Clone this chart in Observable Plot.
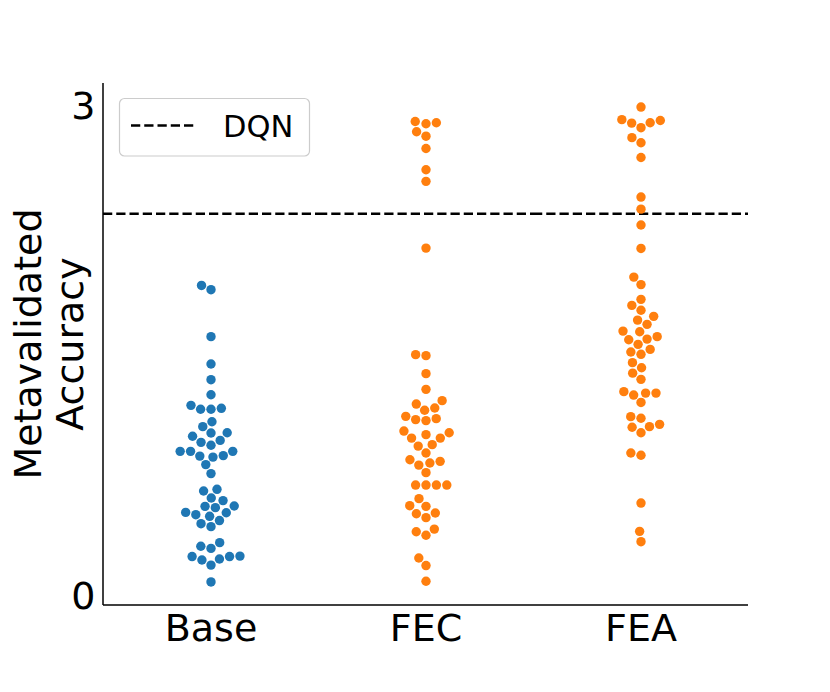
<!DOCTYPE html>
<html>
<head>
<meta charset="utf-8">
<script src="https://cdn.jsdelivr.net/npm/d3@7"></script>
<script src="https://cdn.jsdelivr.net/npm/@observablehq/plot@0.6"></script>
<style>
  html, body { margin: 0; padding: 0; background: white; }
  #chart { width: 830px; height: 692px; }
</style>
</head>
<body>
<div id="chart"></div>
<script>
const categories = ["Base", "FEC", "FEA"];
const colors = ["#1f77b4", "#ff7f0e", "#ff7f0e"];
const baseValues = [1.906, 1.880, 1.593, 1.426, 1.330, 1.238, 1.173, 1.149, 1.149, 1.155,
  1.073, 1.043, 1.006, 1.004, 0.984, 0.959, 0.947, 0.929, 0.892, 0.892,
  0.863, 0.857, 0.866, 0.892, 0.811, 0.756, 0.660, 0.650, 0.607, 0.591,
  0.556, 0.548, 0.558, 0.519, 0.505, 0.495, 0.517, 0.450, 0.469, 0.432,
  0.312, 0.334, 0.299, 0.249, 0.228, 0.197, 0.234, 0.249, 0.252, 0.094];
const fecValues = [2.908, 2.894, 2.900, 2.845, 2.818, 2.743, 2.613, 2.542, 2.134, 1.483,
  1.477, 1.367, 1.271, 1.181, 1.202, 1.143, 1.157, 1.106, 1.086, 1.080,
  1.092, 1.016, 0.973, 0.973, 0.994, 1.006, 0.924, 0.933, 0.882, 0.841,
  0.808, 0.821, 0.831, 0.762, 0.686, 0.686, 0.686, 0.686, 0.603, 0.560,
  0.556, 0.511, 0.487, 0.515, 0.401, 0.379, 0.417, 0.240, 0.194, 0.098];
const feaValues = [2.996, 2.919, 2.898, 2.870, 2.900, 2.914, 2.809, 2.778, 2.688, 2.446,
  2.372, 2.275, 2.132, 1.957, 1.911, 1.821, 1.784, 1.754, 1.694, 1.717,
  1.668, 1.627, 1.623, 1.574, 1.546, 1.578, 1.593, 1.499, 1.485, 1.515,
  1.434, 1.403, 1.370, 1.332, 1.257, 1.236, 1.248, 1.248, 1.191, 1.094,
  1.104, 1.039, 1.043, 1.057, 1.006, 0.882, 0.868, 0.576, 0.403, 0.340];
const dqnValue = 2.344;
const dqnLabel = "DQN";
const yTicks = [0, 3];
const yDomain = [-0.05, 3.14];
const yLabelLines = ["Metavalidated", "Accuracy"];

const rows = [];
[baseValues, fecValues, feaValues].forEach((vals, i) => {
  vals.slice().sort((a, b) => a - b).forEach(v => rows.push({cat: categories[i], value: v}));
});

const FONT = "DejaVu Sans";

function build(useSuper) {
  const ruleOpts = {stroke: "black", strokeWidth: 2.5, strokeDasharray: "9.25,4"};
  if (useSuper) ruleOpts.facet = "super";
  return Plot.plot({
    width: 830,
    height: 692,
    marginLeft: 103,
    marginRight: 82,
    marginTop: 83,
    marginBottom: 87,
    style: {fontFamily: FONT, fontSize: "38px", color: "black", background: "white", overflow: "visible"},
    y: {domain: yDomain, ticks: yTicks, tickFormat: d3.format("d"), tickSize: 0, tickPadding: 8, label: null},
    fx: {domain: categories, padding: 0, label: null, tickSize: 0, tickPadding: 9, axis: "bottom"},
    color: {domain: categories, range: colors},
    marks: [
      Plot.ruleY([dqnValue], ruleOpts),
      Plot.dot(rows, Plot.dodgeX("middle", {fx: "cat", y: "value", r: 4.7, padding: 0.6, fill: "cat"}))
    ]
  });
}

let plot;
try { plot = build(true); } catch (e) { plot = build(false); }
document.getElementById("chart").appendChild(plot);

const svg = d3.select(plot);
const ys = plot.scale("y");
let fxRange = [103, 748];
try { const fxs = plot.scale("fx"); if (fxs && fxs.range) fxRange = fxs.range; } catch (e) {}
const yBottom = ys.apply(yDomain[0]);
const yTop = ys.apply(yDomain[1]);
const xLeft = fxRange[0];
const xRight = fxRange[1];

// spines
svg.append("line").attr("x1", xLeft).attr("x2", xLeft).attr("y1", yTop).attr("y2", yBottom)
  .attr("stroke", "black").attr("stroke-width", 1.5);
svg.append("line").attr("x1", xLeft).attr("x2", xRight).attr("y1", yBottom).attr("y2", yBottom)
  .attr("stroke", "black").attr("stroke-width", 1.5);

// y label (two lines, rotated)
const yMid = (yTop + yBottom) / 2;
const lab = svg.append("g").attr("transform", "rotate(-90)")
  .attr("font-family", FONT).attr("font-size", 38).attr("fill", "black").attr("text-anchor", "middle");
lab.append("text").attr("x", -yMid).attr("y", 40.7).text(yLabelLines[0]);
lab.append("text").attr("x", -yMid).attr("y", 83.3).text(yLabelLines[1]);

// legend
const lg = svg.append("g");
lg.append("rect").attr("x", 119.5).attr("y", 98.5).attr("width", 190).attr("height", 57.5)
  .attr("rx", 5).attr("fill", "white").attr("fill-opacity", 0.8).attr("stroke", "#cccccc").attr("stroke-width", 1.2);
lg.append("line").attr("x1", 131).attr("x2", 197).attr("y1", 125.5).attr("y2", 125.5)
  .attr("stroke", "black").attr("stroke-width", 2.5).attr("stroke-dasharray", "9.25,4");
lg.append("text").attr("x", 223).attr("y", 136.5).attr("font-family", FONT).attr("font-size", 30.5)
  .attr("text-anchor", "start").attr("fill", "black").text(dqnLabel);
</script>
</body>
</html>
